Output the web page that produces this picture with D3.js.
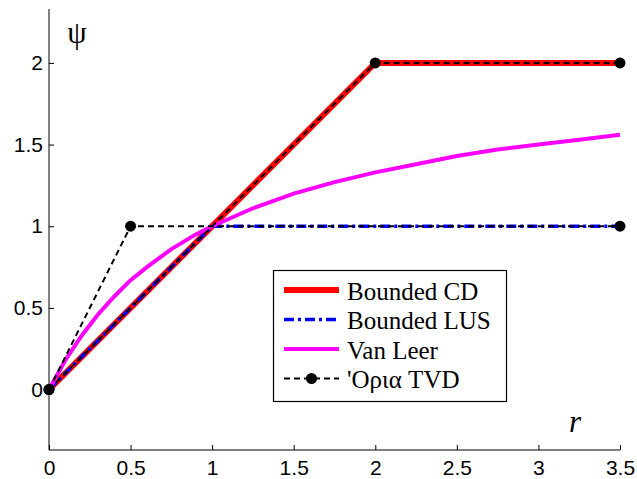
<!DOCTYPE html>
<html>
<head>
<meta charset="utf-8">
<script src="https://cdn.jsdelivr.net/npm/d3@7"></script>
<style>
  body { margin: 0; background: #fff; }
  .tick text { font-family: "Liberation Sans", Arial, sans-serif; font-size: 21px; fill: #000; }
</style>
</head>
<body>
<div id="chart"></div>
<script>
// limiter values
const cdR = [0, 2, 3.5];
const cdPsi = [0, 2, 2];

const lusR = [0, 1, 3.5];
const lusPsi = [0, 1, 1];

const vanLeerR = [0, 0.1, 0.2, 0.3, 0.4, 0.5, 0.6, 0.75, 0.9, 1, 1.25, 1.5, 1.75, 2, 2.25, 2.5, 2.75, 3, 3.25, 3.5];
const vanLeerPsi = [0, 0.18, 0.33, 0.46, 0.57, 0.67, 0.75, 0.86, 0.95, 1, 1.11, 1.2, 1.27, 1.33, 1.38, 1.43, 1.47, 1.5, 1.53, 1.56];

// TVD region bounds (upper and lower)
const tvdUpperR = [0, 2, 3.5];
const tvdUpperPsi = [0, 2, 2];
const tvdLowerR = [0, 0.5, 3.5];
const tvdLowerPsi = [0, 1, 1];

const xTicks = [0, 0.5, 1, 1.5, 2, 2.5, 3, 3.5];
const yTicks = [0, 0.5, 1, 1.5, 2];

const legendLabels = ["Bounded CD", "Bounded LUS", "Van Leer", "'Ορια TVD"];

const W = 637, H = 479;

const x = d3.scaleLinear().domain([0, 3.5]).range([49, 620]);
const y = d3.scaleLinear().domain([-0.37, 2.33]).range([450, 9]);

const svg = d3.select("#chart")
  .append("svg")
    .attr("width", W)
    .attr("height", H);

const zip = (a, b) => a.map((v, i) => [v, b[i]]);

const line = d3.line()
  .x(d => x(d[0]))
  .y(d => y(d[1]));

// series
svg.append("path")
  .datum(zip(cdR, cdPsi))
  .attr("fill", "none")
  .attr("stroke", "#ff0000")
  .attr("stroke-width", 6)
  .attr("d", line);

svg.append("path")
  .datum(zip(lusR, lusPsi))
  .attr("fill", "none")
  .attr("stroke", "#0000ff")
  .attr("stroke-width", 3.5)
  .attr("stroke-dasharray", "10,4,3,4")
  .attr("d", line);

svg.append("path")
  .datum(zip(vanLeerR, vanLeerPsi))
  .attr("fill", "none")
  .attr("stroke", "#ff00ff")
  .attr("stroke-width", 4)
  .attr("d", line);

[zip(tvdUpperR, tvdUpperPsi), zip(tvdLowerR, tvdLowerPsi)].forEach(pts => {
  svg.append("path")
    .datum(pts)
    .attr("fill", "none")
    .attr("stroke", "#000")
    .attr("stroke-width", 2)
    .attr("stroke-dasharray", "6,4")
    .attr("d", line);

  svg.selectAll(null)
    .data(pts)
    .join("circle")
      .attr("cx", d => x(d[0]))
      .attr("cy", d => y(d[1]))
      .attr("r", 5.5)
      .attr("fill", "#000");
});

// axes
svg.append("g")
  .attr("transform", `translate(0,${y(-0.37)})`)
  .call(d3.axisBottom(x)
    .tickValues(xTicks)
    .tickSize(-5)
    .tickPadding(10)
    .tickFormat(d3.format("")))
  .call(g => g.select(".domain").attr("d", `M${x(0)},0H${x(3.5)}`))
  .call(g => g.selectAll("line, .domain").attr("stroke", "#000"));

svg.append("g")
  .attr("transform", `translate(${x(0)},0)`)
  .call(d3.axisLeft(y)
    .tickValues(yTicks)
    .tickSize(-5)
    .tickPadding(6)
    .tickFormat(d3.format("")))
  .call(g => g.select(".domain").attr("d", `M0,${y(2.33)}V${y(-0.37)}`))
  .call(g => g.selectAll("line, .domain").attr("stroke", "#000"));

// axis labels
svg.append("text")
  .attr("x", 77)
  .attr("y", 43)
  .attr("text-anchor", "middle")
  .style("font-family", "'Liberation Serif', 'Times New Roman', serif")
  .style("font-size", "31px")
  .text("ψ");

svg.append("text")
  .attr("x", 569)
  .attr("y", 432)
  .style("font-family", "'Liberation Serif', 'Times New Roman', serif")
  .style("font-style", "italic")
  .style("font-size", "31px")
  .text("r");

// legend
const legend = svg.append("g");

legend.append("rect")
  .attr("x", 273.5)
  .attr("y", 270.5)
  .attr("width", 233)
  .attr("height", 131)
  .attr("fill", "#fff")
  .attr("stroke", "#000")
  .attr("stroke-width", 1.2);

const legendStyles = [
  { color: "#ff0000", width: 6, dash: null, marker: false },
  { color: "#0000ff", width: 3.5, dash: "10,4,3,4", marker: false },
  { color: "#ff00ff", width: 4, dash: null, marker: false },
  { color: "#000", width: 2, dash: "6,4", marker: true }
];

legendLabels.forEach((label, i) => {
  const cy = 290 + i * 29.5;
  const s = legendStyles[i];
  legend.append("line")
    .attr("x1", 284)
    .attr("x2", 339)
    .attr("y1", cy)
    .attr("y2", cy)
    .attr("stroke", s.color)
    .attr("stroke-width", s.width)
    .attr("stroke-dasharray", s.dash);
  if (s.marker) {
    legend.append("circle")
      .attr("cx", 311.5)
      .attr("cy", cy)
      .attr("r", 5.5)
      .attr("fill", "#000");
  }
  legend.append("text")
    .attr("x", 347)
    .attr("y", cy + 9.5)
    .style("font-family", "'Liberation Serif', 'Times New Roman', serif")
    .style("font-size", "25px")
    .text(label);
});
</script>
</body>
</html>
